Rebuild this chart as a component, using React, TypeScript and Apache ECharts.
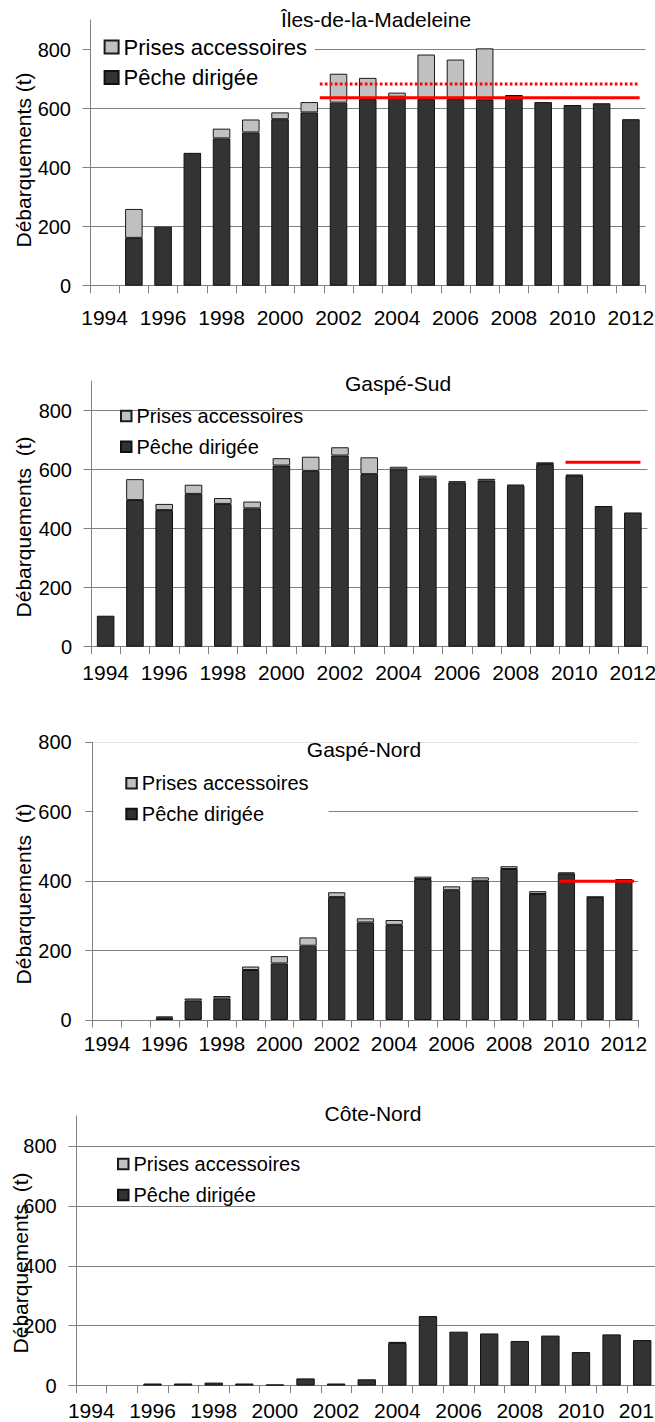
import React, { useEffect, useRef } from 'react';
import * as echarts from 'echarts';

const FONT = 'Liberation Sans, Arial, sans-serif';

const YEARS = ['1994', '1995', '1996', '1997', '1998', '1999', '2000', '2001', '2002', '2003', '2004', '2005', '2006', '2007', '2008', '2009', '2010', '2011', '2012'];
const Y_TICKS = [0, 200, 400, 600, 800];
const SERIES_DIR = 'Pêche dirigée';
const SERIES_ACC = 'Prises accessoires';

// Îles-de-la-Madeleine
const MAD_DIRIGEE = [0, 162, 200, 450, 499, 519, 564, 587, 620, 632, 640, 632, 632, 631, 646, 622, 612, 618, 564];
const MAD_ACCESSOIRES = [0, 98, 0, 0, 33, 44, 23, 35, 98, 72, 14, 151, 134, 173, 0, 0, 0, 0, 0];
// reference lines: [position in category units, value]
const MAD_REF_SOLID = [[7.86, 637], [18.8, 637]];
const MAD_REF_DOTTED = [[7.86, 683], [18.8, 683]];

// Gaspé-Sud
const GS_DIRIGEE = [105, 497, 463, 518, 484, 469, 614, 596, 648, 585, 601, 571, 557, 563, 546, 619, 580, 477, 455];
const GS_ACCESSOIRES = [0, 71, 21, 31, 20, 23, 25, 48, 28, 57, 9, 9, 4, 6, 3, 6, 3, 0, 0];
const GS_REF = [[16.2, 625], [18.76, 625]];

// Gaspé-Nord
const GN_DIRIGEE = [0, 0, 7, 56, 62, 144, 163, 214, 354, 281, 274, 406, 374, 401, 435, 363, 422, 354, 406];
const GN_ACCESSOIRES = [0, 0, 3, 6, 7, 10, 21, 24, 14, 12, 14, 7, 11, 10, 8, 8, 3, 1, 0];
const GN_REF = [[16.24, 400], [18.86, 400]];

// Côte-Nord
const CN_DIRIGEE = [0, 0, 7, 7, 10, 7, 4, 24, 7, 21, 142, 232, 180, 174, 149, 167, 112, 171, 152];
const CN_ACCESSOIRES = [0, 0, 0, 0, 0, 0, 0, 0, 0, 0, 4, 0, 0, 0, 0, 0, 0, 0, 0];

const panels = [
  {
    title: 'Îles-de-la-Madeleine', titleX: 376, titleTop: 9,
    dir: MAD_DIRIGEE, acc: MAD_ACCESSOIRES,
    refs: [{ data: MAD_REF_SOLID, type: 'solid' }, { data: MAD_REF_DOTTED, type: [2.7, 2.3] }],
    grid: { left: 90, top: 20, width: 555.5, height: 265.7 }, yMax: 900,
    xLabelMargin: 21, yLabelMargin: 19,
    yName: 'Débarquements (t)', yNameX: 23, yNameY: 160,
    legend: { left: 91, top: 30, iw: 14, ih: 13, font: 22, gap: 8.5, padding: [6, 8, 6, 12.6], bg: '#ffffff' },
    topLine: '#808080',
  },
  {
    title: 'Gaspé-Sud', titleX: 398, titleTop: 373,
    dir: GS_DIRIGEE, acc: GS_ACCESSOIRES,
    refs: [{ data: GS_REF, type: 'solid' }],
    grid: { left: 91, top: 381.2, width: 556.5, height: 265.5 }, yMax: 900,
    xLabelMargin: 15, yLabelMargin: 19,
    yName: 'Débarquements  (t)', yNameX: 23, yNameY: 527,
    legend: { left: 120, top: 406, iw: 10.5, ih: 10.5, font: 20, gap: 10.7, padding: 0, bg: 'transparent' },
    topLine: '#808080',
  },
  {
    title: 'Gaspé-Nord', titleX: 364, titleTop: 738.5,
    dir: GN_DIRIGEE, acc: GN_ACCESSOIRES,
    refs: [{ data: GN_REF, type: 'solid' }],
    grid: { left: 92.7, top: 742.3, width: 545.5, height: 277.7 }, yMax: 800,
    xLabelMargin: 13, yLabelMargin: 21,
    yName: 'Débarquements  (t)', yNameX: 23, yNameY: 894,
    legend: { left: 93.5, top: 768.3, iw: 10.5, ih: 10.5, font: 20, gap: 10.7, padding: [5, 20, 5, 31.8], bg: '#ffffff' },
    topLine: '#e6e6e6',
  },
  {
    title: 'Côte-Nord', titleX: 373, titleTop: 1102.5,
    dir: CN_DIRIGEE, acc: CN_ACCESSOIRES,
    refs: [],
    grid: { left: 76, top: 1116, width: 581.5, height: 269.6 }, yMax: 900,
    xLabelMargin: 14.5, yLabelMargin: 19.3,
    yName: 'Débarquements  (t)', yNameX: 20, yNameY: 1263,
    legend: { left: 117, top: 1154, iw: 10.5, ih: 10.5, font: 20, gap: 11, padding: 0, bg: 'transparent' },
    topLine: '#808080',
  },
];

const nz = (arr: number[]) => arr.map((v) => (v === 0 ? null : v));

function buildOption() {
  const grid: any[] = [];
  const xAxis: any[] = [];
  const yAxis: any[] = [];
  const series: any[] = [];
  const title: any[] = [];
  const legend: any[] = [];
  const graphic: any[] = [];

  panels.forEach((p, i) => {
    grid.push({ ...p.grid, containLabel: false, outerBoundsMode: 'none' });
    xAxis.push({
      type: 'category', gridIndex: i, data: YEARS, boundaryGap: true,
      axisLine: { show: true, lineStyle: { color: '#808080', width: 1 } },
      axisTick: { show: true, alignWithLabel: false, interval: 0, length: 7.5, lineStyle: { color: '#808080' } },
      axisLabel: { interval: 1, margin: p.xLabelMargin, fontSize: 21, fontFamily: FONT, color: '#000', hideOverlap: false },
      splitLine: { show: false },
    });
    xAxis.push({ type: 'value', gridIndex: i, min: 0, max: YEARS.length, show: false });
    const lineColors = Y_TICKS.map((t) => (t === 800 ? p.topLine : '#808080'));
    yAxis.push({
      type: 'value', gridIndex: i, min: 0, max: p.yMax, interval: 200,
      axisLine: { show: true, lineStyle: { color: '#808080', width: 1 } },
      axisTick: { show: true, length: 7.5, customValues: Y_TICKS, lineStyle: { color: '#808080' } },
      axisLabel: { customValues: Y_TICKS, margin: p.yLabelMargin, fontSize: 20, fontFamily: FONT, color: '#000' },
      splitLine: { show: true, lineStyle: { color: lineColors, width: 1 } },
    });
    series.push({
      type: 'bar', name: SERIES_DIR, xAxisIndex: 2 * i, yAxisIndex: i, stack: 's' + i,
      data: nz(p.dir), barCategoryGap: '40%',
      itemStyle: { color: '#333333', borderColor: '#111111', borderWidth: 1 },
      z: 2,
    });
    series.push({
      type: 'bar', name: SERIES_ACC, xAxisIndex: 2 * i, yAxisIndex: i, stack: 's' + i,
      data: nz(p.acc), barCategoryGap: '40%',
      itemStyle: { color: '#c0c0c0', borderColor: '#1a1a1a', borderWidth: 1 },
      z: 2,
    });
    p.refs.forEach((r) => {
      series.push({
        type: 'line', name: 'ref' + i, xAxisIndex: 2 * i + 1, yAxisIndex: i,
        data: r.data, symbol: 'none', silent: true,
        lineStyle: { color: '#ff0000', width: 3, type: r.type as any },
        z: 5,
      });
    });
    title.push({
      text: p.title, left: p.titleX, top: p.titleTop, textAlign: 'center', padding: 0,
      textStyle: { fontSize: 21, fontWeight: 'normal', color: '#000', fontFamily: FONT },
    });
    legend.push({
      orient: 'vertical', left: p.legend.left, top: p.legend.top,
      itemWidth: p.legend.iw, itemHeight: p.legend.ih, itemGap: p.legend.gap,
      padding: p.legend.padding, backgroundColor: p.legend.bg,
      icon: 'rect', data: [SERIES_ACC, SERIES_DIR],
      textStyle: { fontSize: p.legend.font, lineHeight: p.legend.font, fontFamily: FONT, color: '#000' },
      z: 4,
    });
    graphic.push({
      type: 'text', x: p.yNameX, y: p.yNameY, rotation: Math.PI / 2,
      style: {
        text: p.yName, fontSize: 21, fontFamily: FONT, fill: '#000',
        align: 'center', verticalAlign: 'middle', textAlign: 'center', textVerticalAlign: 'middle',
      },
      z: 10,
    });
  });

  return {
    animation: false,
    backgroundColor: '#ffffff',
    grid, xAxis, yAxis, series, title, legend, graphic,
  };
}

export default function App() {
  const ref = useRef<HTMLDivElement>(null);
  useEffect(() => {
    if (!ref.current) return;
    const chart = echarts.init(ref.current, null, { renderer: 'svg' });
    chart.setOption(buildOption() as any);
    return () => chart.dispose();
  }, []);
  return (
    <div
      ref={ref}
      style={{ position: 'absolute', left: 0, top: 0, width: 655, height: 1422, overflow: 'hidden', background: '#fff' }}
    />
  );
}
